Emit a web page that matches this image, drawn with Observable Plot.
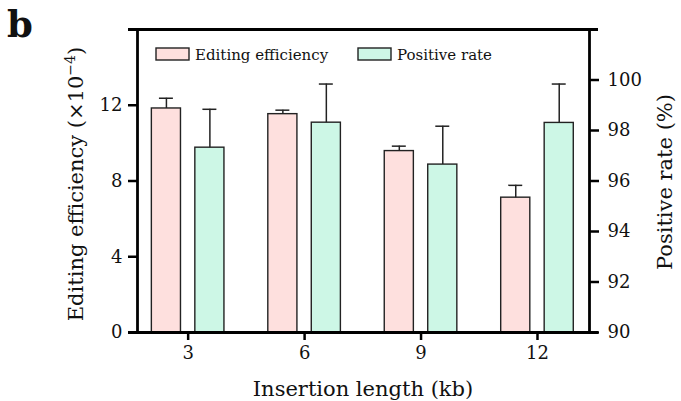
<!DOCTYPE html>
<html>
<head>
<meta charset="utf-8">
<script src="https://cdn.jsdelivr.net/npm/d3@7"></script>
<script src="https://cdn.jsdelivr.net/npm/@observablehq/plot@0.6"></script>
<style>
  body { margin: 0; background: #fff; }
  #chart { width: 681px; height: 401px; }
</style>
</head>
<body>
<div id="chart"></div>
<script>
// ---- data ----
const lengths = [3, 6, 9, 12];
const editingEff = [11.83, 11.53, 9.58, 7.12];      // ×10^-4
const editingErr = [0.54, 0.21, 0.26, 0.65];
const positiveRate = [97.32, 98.31, 96.65, 98.30];  // %
const positiveErr = [1.52, 1.53, 1.52, 1.54];
const leftTicks = [0, 4, 8, 12];
const rightTicks = [90, 92, 94, 96, 98, 100];
const seriesNames = ["Editing efficiency", "Positive rate"];

// ---- scales / helpers ----
const leftDomain = [0, 16];
const rightDomain = [90, 102];
const toLeft = v => (v - rightDomain[0]) * (leftDomain[1] - leftDomain[0]) / (rightDomain[1] - rightDomain[0]);
const fromLeft = v => rightDomain[0] + v * (rightDomain[1] - rightDomain[0]) / (leftDomain[1] - leftDomain[0]);
const xDomain = [1.695, 13.34];
const offset = 0.56, half = 0.375, cap = 0.18;
const colors = {"Editing efficiency": "#fee0de", "Positive rate": "#cdf7e6"};
const FONT = "DejaVu Serif";

const rows = [];
lengths.forEach((L, i) => {
  rows.push({series: seriesNames[0], len: L, cx: L - offset, v: editingEff[i], top: editingEff[i] + editingErr[i]});
  rows.push({series: seriesNames[1], len: L, cx: L + offset, v: toLeft(positiveRate[i]), top: toLeft(positiveRate[i] + positiveErr[i])});
});

const axisText = {fontSize: 18, fontFamily: FONT, fill: "#111", label: null, stroke: "#000", strokeWidth: 2.5};

const plot = Plot.plot({
  width: 681,
  height: 401,
  marginLeft: 137,
  marginRight: 92,
  marginTop: 29,
  marginBottom: 69,
  style: {fontFamily: FONT, fontSize: "18px", color: "#111", background: "#fff"},
  x: {domain: xDomain},
  y: {domain: leftDomain},
  marks: [
    Plot.rectY(rows, {x1: d => d.cx - half, x2: d => d.cx + half, y1: 0, y2: "v",
      fill: d => colors[d.series], stroke: "#222", strokeWidth: 1.4}),
    Plot.ruleX(rows, {x: "cx", y1: "v", y2: "top", stroke: "#222", strokeWidth: 1.5}),
    Plot.ruleY(rows, {y: "top", x1: d => d.cx - cap, x2: d => d.cx + cap, stroke: "#222", strokeWidth: 1.5}),
    // axes
    Plot.axisY(leftTicks, {...axisText, anchor: "left", tickSize: 9, tickPadding: 6}),
    Plot.axisY(rightTicks.map(toLeft), {...axisText, anchor: "right", tickSize: 9, tickPadding: 9,
      tickFormat: d => String(Math.round(fromLeft(d)))}),
    Plot.axisX(lengths, {...axisText, anchor: "bottom", tickSize: 8, tickPadding: 6}),
    // frame lines
    Plot.ruleX(xDomain, {stroke: "#000", strokeWidth: 2.8}),
    Plot.ruleY(leftDomain, {stroke: "#000", strokeWidth: 2.8, insetLeft: -9, insetRight: -9})
  ]
});

const svg = d3.select(plot);
svg.style("overflow", "visible");
svg.selectAll("g[aria-label$='tick label'] text").style("font-family", FONT);
const g = svg.append("g").attr("fill", "#111")
  .style("font-family", FONT).attr("text-anchor", "start");

// panel letter
g.append("text").attr("x", 7).attr("y", 37).style("font-size", "37px").style("font-weight", "bold").text("b");

// axis titles
const lt = g.append("text").attr("transform", "translate(83,184) rotate(-90)")
  .attr("text-anchor", "middle").style("font-size", "21px");
lt.append("tspan").text("Editing efficiency (×10");
lt.append("tspan").style("font-size", "14px").attr("dy", -8).text("−4");
lt.append("tspan").attr("dy", 8).text(")");

g.append("text").attr("transform", "translate(672,182) rotate(-90)")
  .attr("text-anchor", "middle").style("font-size", "21px").text("Positive rate (%)");

g.append("text").attr("x", 363).attr("y", 396).attr("text-anchor", "middle")
  .style("font-size", "21px").text("Insertion length (kb)");

// legend
const legendX = [156, 358];
seriesNames.forEach((s, i) => {
  g.append("rect").attr("x", legendX[i]).attr("y", 48).attr("width", 33).attr("height", 12)
    .attr("fill", colors[s]).attr("stroke", "#222").attr("stroke-width", 1.4);
  g.append("text").attr("x", legendX[i] + 39).attr("y", 60).style("font-size", "15px").text(s);
});

document.getElementById("chart").appendChild(plot);
</script>
</body>
</html>
